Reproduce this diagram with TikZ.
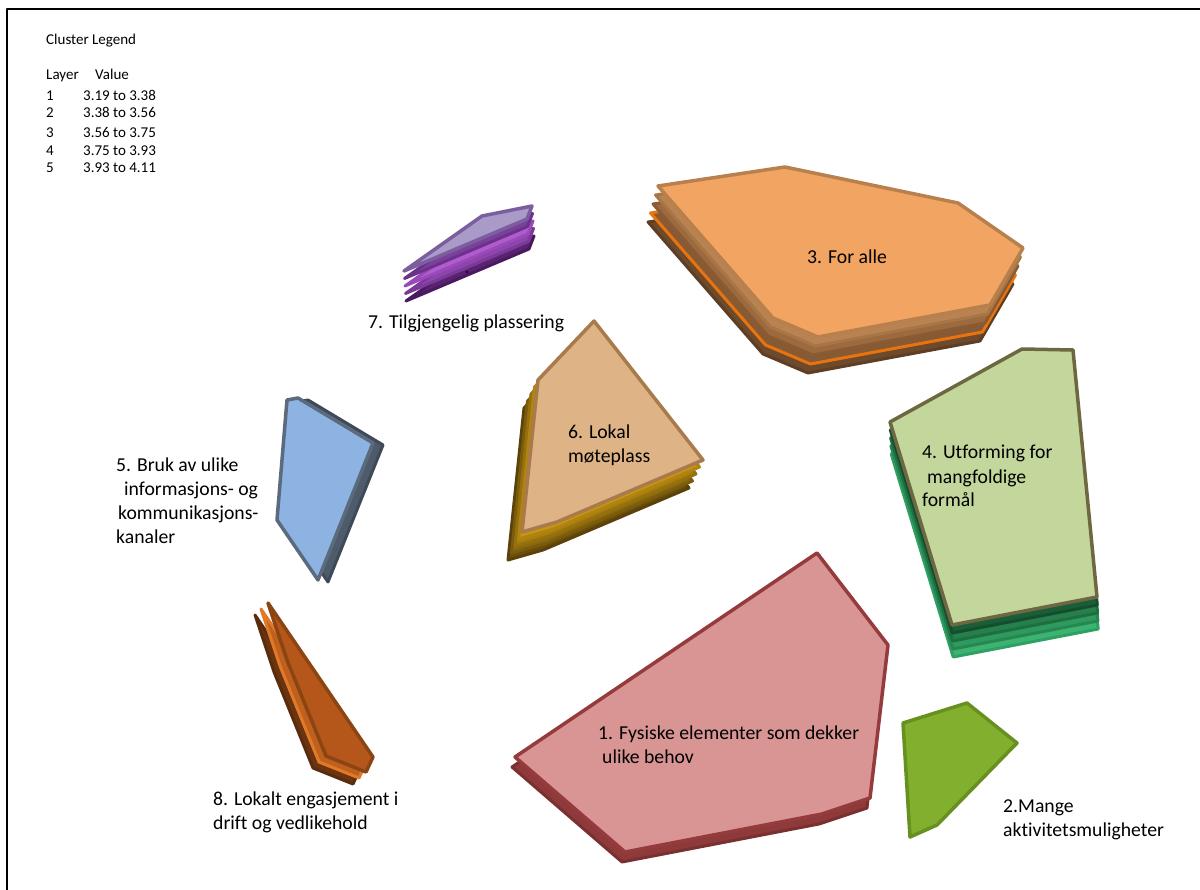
\documentclass[tikz,border=0pt]{standalone}
\usepackage{fontspec}
\setmainfont[Ligatures=NoCommon]{Carlito}
\begin{document}
\begin{tikzpicture}[x=1pt,y=-1pt,line join=round,
  lbl/.style={anchor=base west,inner sep=0pt,align=left,font=\fontsize{19.7}{24}\selectfont},
  leg/.style={anchor=base west,inner sep=0pt,font=\fontsize{15}{18}\selectfont},
  topface/.style={line width=3.5pt},
  under/.style={line width=3pt}]
\useasboundingbox (0,0) rectangle (1200,890);
\fill[white] (0,0) rectangle (1200,890);
\draw[line width=2pt] (7,890) -- (7,9) -- (1200,9);

% legend
\node[leg] (legtitle) at (46,45) {Cluster Legend};
\node[leg] (leglayer) at (46,80) {Layer};
\node[leg] (legvalue) at (95,80) {Value};
\foreach \n/\v/\yy in {1/3.19 to 3.38/101,2/3.38 to 3.56/118,3/3.56 to 3.75/138,4/3.75 to 3.93/156,5/3.93 to 4.11/173}{
  \node[leg] (legn\n) at (46,\yy) {\n};
  \node[leg] (legv\n) at (83,\yy) {\v};
}

% cluster 3
\def\pthree{(658,186) -- (785,167) -- (958,203) -- (1023,248) -- (990,305) -- (818,337) -- (773,318) -- cycle}
\foreach \k/\f/\d in {4/6E4A2C/5E3E24,3/855A34/E8730F,2/9C6A3E/8A5A32,1/B98252/A87545}{
  \definecolor{ff}{HTML}{\f}\definecolor{dd}{HTML}{\d}
  \begin{scope}[shift={(-2.5*\k,9*\k)}]
    \filldraw[under,fill=ff,draw=dd] \pthree;
  \end{scope}
}
\definecolor{c3f}{HTML}{F2A462}\definecolor{c3d}{HTML}{B8804C}
\filldraw[topface,fill=c3f,draw=c3d] \pthree;
\node[lbl] (l3) at (807,264) {3. For alle};

% cluster 7
\def\pseven{(404,271) -- (482,216) -- (532,206) -- (527,219) -- cycle}
\foreach \k/\f/\d in {4/5A2372/4A1A60,3/8E44AD/7A3A98,2/B05CD0/9A4AB8,1/7B3F9E/6A3388}{
  \definecolor{ff}{HTML}{\f}\definecolor{dd}{HTML}{\d}
  \begin{scope}[shift={(0.5*\k,7.5*\k)}]
    \filldraw[under,fill=ff,draw=dd] \pseven;
  \end{scope}
}
\definecolor{c7f}{HTML}{A99AC8}\definecolor{c7d}{HTML}{7A5E9E}
\filldraw[topface,fill=c7f,draw=c7d] \pseven;
\fill (467,272) circle (1.2);
\node[lbl] (l7) at (368,329) {7. Tilgjengelig plassering};

% cluster 6
\def\psix{(594,321) -- (703,460) -- (557,522) -- (522,532) -- (538,380) -- cycle}
\foreach \k/\f/\d in {4/6B4E0A/5A420A,3/8A6A0E/7A5C0C,2/A87E0E/96700C,1/C8960F/B08410}{
  \definecolor{ff}{HTML}{\f}\definecolor{dd}{HTML}{\d}
  \begin{scope}[shift={(-3.5*\k,7*\k)}]
    \filldraw[under,fill=ff,draw=dd] \psix;
  \end{scope}
}
\definecolor{c6f}{HTML}{DEB386}\definecolor{c6d}{HTML}{A87A4C}
\filldraw[topface,fill=c6f,draw=c6d] \psix;
\node[lbl] (l6) at (568,463) {6. Lokal\\møteplass};

% cluster 5
\def\pfive{(287,400) -- (298,398) -- (373,443) -- (318,580) -- (277,520) -- cycle}
\definecolor{c5b}{HTML}{4E5B6B}\definecolor{c5bd}{HTML}{3E4A58}
\begin{scope}[shift={(10,2)}]
  \filldraw[under,fill=c5b,draw=c5bd] \pfive;
\end{scope}
\definecolor{c5f}{HTML}{8DB3E2}\definecolor{c5d}{HTML}{5B6B7D}
\filldraw[topface,fill=c5f,draw=c5d] \pfive;
\node[lbl] (l5) at (116,543) {5. Bruk av ulike\\\hspace*{8pt}informasjons- og\\\hspace*{2pt}kommunikasjons-\\kanaler};

% cluster 8
\def\peight{(268,603) -- (373,757) -- (366,772) -- (326,756) -- (287,660) -- cycle}
\definecolor{c8a}{HTML}{6B3410}\definecolor{c8ad}{HTML}{5A2C0E}
\definecolor{c8b}{HTML}{C0601E}\definecolor{c8bd}{HTML}{E07A28}
\begin{scope}[shift={(-13,12)}]
  \filldraw[under,fill=c8a,draw=c8ad] \peight;
\end{scope}
\begin{scope}[shift={(-7,6)}]
  \filldraw[under,fill=c8b,draw=c8bd] \peight;
\end{scope}
\definecolor{c8f}{HTML}{B5561A}\definecolor{c8d}{HTML}{8B4513}
\filldraw[topface,fill=c8f,draw=c8d] \peight;
\node[lbl] (l8) at (213,829) {8. Lokalt engasjement i\\drift og vedlikehold};

% cluster 4
\def\pfour{(890,422) -- (1022,349) -- (1073,350) -- (1097,597) -- (952,625) -- cycle}
\foreach \k/\f/\d in {4/3CB371/2FA063,3/2E9A5E/268850,2/25804C/1E6E40,1/1A5E38/154E2E}{
  \definecolor{ff}{HTML}{\f}\definecolor{dd}{HTML}{\d}
  \begin{scope}[shift={(0.3*\k,8*\k)}]
    \filldraw[under,fill=ff,draw=dd] \pfour;
  \end{scope}
}
\definecolor{c4f}{HTML}{C3D69B}\definecolor{c4d}{HTML}{6D6742}
\filldraw[topface,fill=c4f,draw=c4d] \pfour;
\node[lbl] (l4) at (922,507) {4. Utforming for\\\hspace*{5pt}mangfoldige\\formål};

% cluster 1
\def\pone{(817,553) -- (888,645) -- (870,798) -- (822,814) -- (625,852) -- (515,757) -- cycle}
\definecolor{c1b}{HTML}{8E3A3A}\definecolor{c1bd}{HTML}{7A3030}
\begin{scope}[shift={(-3,10)}]
  \filldraw[under,fill=c1b,draw=c1bd] \pone;
\end{scope}
\definecolor{c1f}{HTML}{D99594}\definecolor{c1d}{HTML}{953B3D}
\filldraw[topface,fill=c1f,draw=c1d] \pone;
\node[lbl] (l1) at (598,763) {1. Fysiske elementer som dekker\\\hspace*{4pt}ulike behov};

% cluster 2
\definecolor{c2f}{HTML}{82B02E}\definecolor{c2d}{HTML}{66911F}
\filldraw[topface,fill=c2f,draw=c2d] (903,723) -- (967,703) -- (1017,743) -- (937,825) -- (910,837) -- cycle;
\node[lbl] (l2) at (1003,836) {2.Mange\\aktivitetsmuligheter};
\end{tikzpicture}
\end{document}
